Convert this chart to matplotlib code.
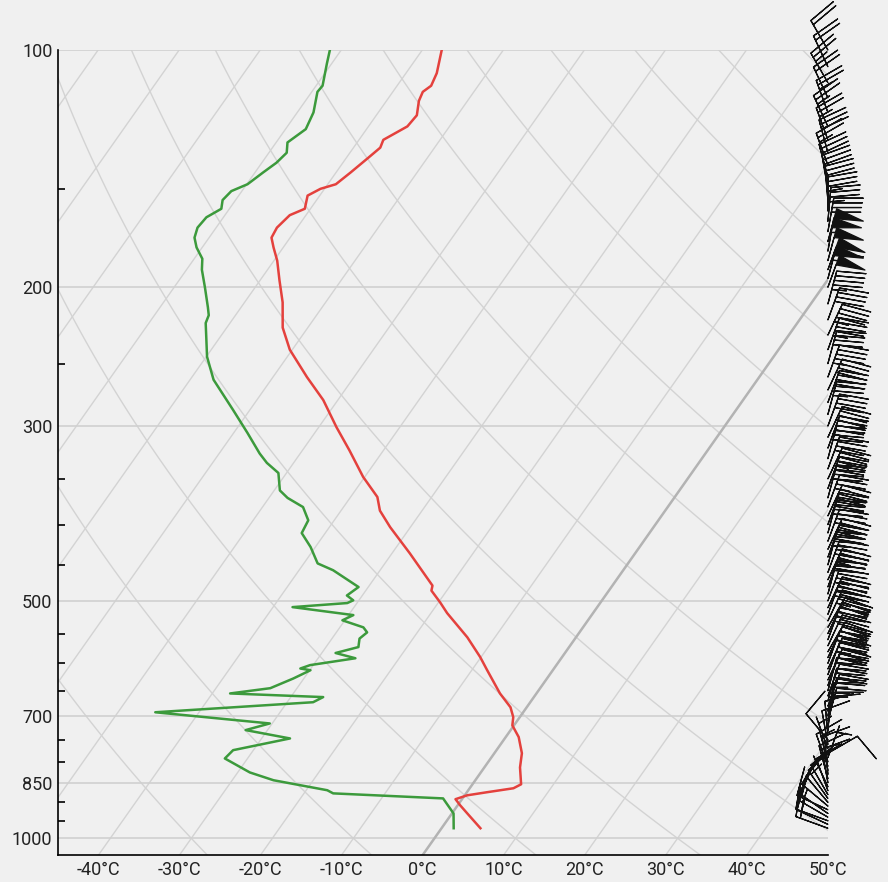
import numpy as np
import matplotlib
matplotlib.use("Agg")
import matplotlib.pyplot as plt
from matplotlib.ticker import FixedLocator, NullFormatter

plt.rcParams['font.family'] = ['Roboto', 'DejaVu Sans']

# temperature profile (hPa, degC)
p_temp = [100, 107, 111, 113, 116, 121, 125, 130, 133, 137,
          143, 148, 150, 153, 159, 162, 168, 173, 178, 185,
          196, 209, 225, 240, 260, 278, 301, 322, 348, 369,
          384, 403, 435, 478, 485, 502, 518, 556, 589, 612,
          655, 682, 702, 719, 744, 780, 813, 854, 864, 874,
          882, 892, 908, 930, 971]
temp = [-67.6, -66.2, -65.8, -66.3, -66.0, -65.0, -65.2, -67.0, -66.7, -67.3,
        -68.2, -69.0, -70.5, -71.5, -70.7, -72.0, -72.5, -72.3, -71.2, -69.6,
        -67.6, -65.3, -63.1, -60.3, -55.8, -51.8, -47.8, -44.2, -40.2, -36.7,
        -35.2, -32.5, -27.8, -22.2, -21.9, -19.8, -18.0, -13.4, -10.1, -8.1,
        -4.5, -2.0, -0.8, -0.2, 1.6, 3.4, 4.4, 6.0, 5.4, 2.5,
        0.3, -0.8, 0.3, 1.9, 4.8]

# dewpoint profile
p_dew = [100, 104, 111, 113, 120, 126, 131, 135, 139, 143,
         148, 151, 155, 159, 163, 168, 173, 178, 184, 190,
         200, 212, 217, 222, 245, 262, 286, 306, 325, 334,
         344, 362, 370, 380, 395, 410, 427, 448, 457, 480,
         492, 499, 503, 509, 521, 529, 540, 548, 558, 572,
         582, 591, 603, 609, 612, 627, 645, 655, 662, 672,
         692, 715, 729, 747, 773, 792, 825, 844, 869, 877,
         890, 930, 971]
dewpt = [-81.4, -80.6, -79.2, -79.3, -78.0, -77.5, -78.6, -77.8, -78.2, -79.0,
         -79.9, -81.3, -81.6, -81.0, -82.1, -82.3, -81.8, -80.7, -79.0, -78.1,
         -76.2, -74.1, -73.3, -73.0, -69.9, -67.1, -62.1, -58.3, -55.0, -53.3,
         -51.0, -49.3, -47.7, -45.0, -43.2, -42.9, -40.6, -38.3, -35.8, -31.2,
         -31.9, -30.7, -31.2, -37.6, -29.4, -30.3, -27.1, -26.2, -26.6, -26.0,
         -28.3, -25.4, -30.4, -31.3, -29.9, -31.3, -33.3, -37.8, -26.0, -26.8,
         -45.4, -30.3, -32.7, -26.5, -32.5, -32.8, -28.5, -24.9, -17.4, -16.4,
         -2.4, 0.2, 1.5]

# wind (hPa, direction deg, speed kt)
p_wind = [971, 960, 950, 940, 930, 920, 910, 900, 890, 880,
          870, 860, 850, 840, 830, 820, 810, 800, 790, 780,
          770, 760, 750, 740, 730, 720, 710, 700, 690, 680,
          670, 660, 650, 640, 630, 620, 610, 600, 590, 580,
          570, 560, 550, 540, 530, 520, 510, 500, 490, 480,
          470, 460, 450, 440, 430, 420, 410, 400, 390, 380,
          370, 360, 350, 340, 330, 320, 310, 300, 290, 280,
          270, 260, 250, 240, 230, 220, 210, 200, 195, 190,
          185, 180, 175, 170, 165, 160, 155, 150, 145, 140,
          135, 130, 125, 120, 115, 110, 105, 100]
wdir = [290, 295, 290, 300, 305, 295, 310, 320, 325, 330,
        340, 335, 350, 345, 355, 350, 340, 345, 20, 60,
        340, 350, 320, 355, 5, 10, 15, 10, 15, 20,
        15, 20, 15, 20, 25, 20, 25, 20, 25, 30,
        25, 20, 25, 30, 25, 20, 25, 20, 15, 20,
        25, 20, 15, 20, 25, 20, 15, 20, 25, 20,
        15, 20, 25, 20, 15, 20, 25, 20, 15, 20,
        25, 20, 15, 20, 25, 20, 15, 20, 15, 20,
        15, 10, 15, 10, 5, 0, 355, 350, 345, 340,
        345, 340, 335, 340, 335, 330, 335, 330]
wspd = [15, 15, 10, 15, 10, 15, 10, 10, 15, 10,
        10, 5, 10, 10, 5, 10, 10, 5, 5, 10,
        5, 10, 10, 10, 10, 15, 15, 15, 20, 20,
        25, 25, 20, 25, 30, 25, 30, 30, 35, 35,
        30, 35, 35, 30, 35, 40, 35, 35, 30, 35,
        35, 40, 35, 40, 40, 35, 40, 40, 40, 35,
        40, 40, 45, 40, 40, 45, 40, 40, 35, 40,
        40, 45, 40, 45, 45, 40, 45, 50, 55, 60,
        50, 55, 50, 40, 35, 35, 30, 30, 30, 25,
        30, 25, 25, 25, 20, 25, 20, 20]

x_labels = [-40, -30, -20, -10, 0, 10, 20, 30, 40, 50]
p_labels = [100, 200, 300, 500, 700, 850, 1000]
p_minor = [150, 250, 350, 400, 450, 550, 600, 650, 750, 800, 900, 950]

P_BOT = 1050.0
SKEW = 68.5  # degC of shift per decade of pressure


def skew(t, p):
    return np.asarray(t) + SKEW * np.log10(P_BOT / np.asarray(p, dtype=float))


bg = '#f0f0f0'
fig = plt.figure(figsize=(8.88, 8.82), dpi=100, facecolor=bg)
ax = fig.add_axes([0.0653, 0.0306, 0.867, 0.9127])
ax.set_facecolor(bg)
ax.set_yscale('log')

pp = np.geomspace(P_BOT, 100, 120)
# dry adiabats
for th in range(-50, 260, 20):
    t = (th + 273.15) * (pp / 1000.0) ** 0.286 - 273.15
    ax.plot(skew(t, pp), pp, color='#d3d3d3', lw=1.0, zorder=1)
# isotherms
for t0 in range(-120, 60, 10):
    if t0 == 0:
        ax.plot(skew([0, 0], [P_BOT, 100]), [P_BOT, 100], color='#b3b3b3', lw=1.8, zorder=2)
    else:
        ax.plot(skew([t0, t0], [P_BOT, 100]), [P_BOT, 100], color='#d3d3d3', lw=1.0, zorder=1)
# isobars
for p in p_labels:
    ax.axhline(p, color='#d0d0d0', lw=1.2, zorder=1)

ax.plot(skew(dewpt, p_dew), p_dew, color='#3c9a3c', lw=1.8, zorder=4)
ax.plot(skew(temp, p_temp), p_temp, color='#e4413d', lw=1.8, zorder=4)

wd = np.radians(wdir)
u = -np.array(wspd) * np.sin(wd)
v = -np.array(wspd) * np.cos(wd)
ax.barbs(np.full(len(p_wind), 50.0), p_wind, u, v, length=7, lw=0.9,
         color='#111111', clip_on=False, zorder=5,
         sizes=dict(height=0.85, spacing=0.14, width=0.3))

ax.set_xlim(-45, 50)
ax.set_ylim(P_BOT, 100)
ax.yaxis.set_major_locator(FixedLocator(p_labels))
ax.yaxis.set_minor_locator(FixedLocator(p_minor))
ax.yaxis.set_minor_formatter(NullFormatter())
ax.set_yticklabels([str(p) for p in p_labels])
ax.set_xticks(x_labels)
ax.set_xticklabels([f"{t}°C" for t in x_labels])
ax.tick_params(axis='both', which='major', length=0, labelsize=13, colors='#222222', pad=4)
ax.tick_params(axis='y', which='minor', direction='in', length=5, width=1.2, color='black')

for s in ['top', 'right']:
    ax.spines[s].set_visible(False)
for s in ['left', 'bottom']:
    ax.spines[s].set_linewidth(1.2)
    ax.spines[s].set_color('black')

fig.savefig('out.png', dpi=100, facecolor=bg)
